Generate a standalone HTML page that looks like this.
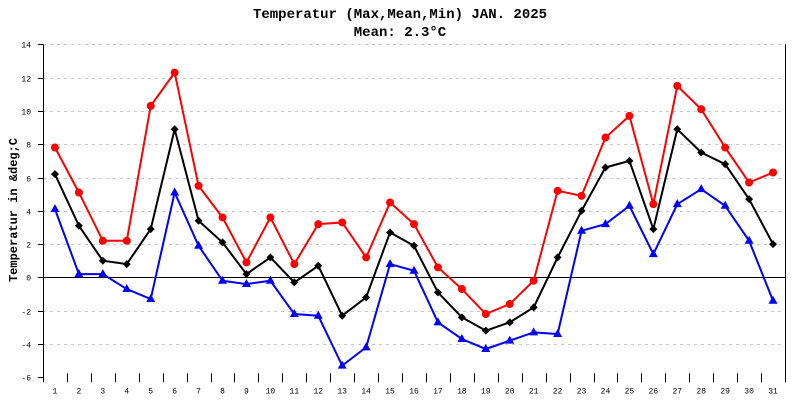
<!DOCTYPE html>
<html><head><meta charset="utf-8"><style>
html,body{margin:0;padding:0;background:#fff;}
svg{display:block;font-family:"Liberation Mono",monospace;}
</style></head><body>
<svg id="chart" width="800" height="400" xmlns="http://www.w3.org/2000/svg">
<text x="400" y="18" text-anchor="middle" font-size="14" font-weight="bold">Temperatur (Max,Mean,Min) JAN. 2025</text>
<text x="400" y="36" text-anchor="middle" font-size="14" font-weight="bold">Mean: 2.3°C</text>
<text transform="translate(17,210) rotate(-90)" text-anchor="middle" font-size="12" font-weight="bold">Temperatur in &amp;deg;C</text>
<g id="grid"></g><g id="axes"></g><g id="series"></g>
</svg>
<script>
const days = Array.from({length:31},(_,i)=>i+1);
const maxVals = [7.8,5.1,2.2,2.2,10.3,12.3,5.5,3.6,0.9,3.6,0.8,3.2,3.3,1.2,4.5,3.2,0.6,-0.7,-2.2,-1.6,-0.2,5.2,4.9,8.4,9.7,4.4,11.5,10.1,7.8,5.7,6.3];
const meanVals = [6.2,3.1,1.0,0.8,2.9,8.9,3.4,2.1,0.2,1.2,-0.3,0.7,-2.3,-1.2,2.7,1.9,-0.9,-2.4,-3.2,-2.7,-1.8,1.2,4.0,6.6,7.0,2.9,8.9,7.5,6.8,4.7,2.0];
const minVals = [4.1,0.2,0.2,-0.7,-1.3,5.1,1.9,-0.2,-0.4,-0.2,-2.2,-2.3,-5.3,-4.2,0.8,0.4,-2.7,-3.7,-4.3,-3.8,-3.3,-3.4,2.8,3.2,4.3,1.4,4.4,5.3,4.3,2.2,-1.4];
const yTicks = [14,12,10,8,6,4,2,0,-2,-4,-6];

const NS="http://www.w3.org/2000/svg";
const L=43,R=785,T=44.3,B=377.3,yMin=-6,yMax=14;
const bw=(R-L)/days.length;
const xs=d=>L+(d-0.5)*bw;
const ys=v=>B-(v-yMin)/(yMax-yMin)*(B-T);
function mk(tag,attrs,parent){const e=document.createElementNS(NS,tag);for(const k in attrs)e.setAttribute(k,attrs[k]);parent.appendChild(e);return e;}
const grid=document.getElementById('grid'),axes=document.getElementById('axes'),ser=document.getElementById('series');
yTicks.forEach(v=>{
  const y=Math.round(ys(v))+0.5;
  if(v!==0&&v!==yMin){const g=mk('line',{x1:L,x2:R,y1:y,y2:y,stroke:'#c8c8c8','stroke-dasharray':'3,4'},grid);
  
  }
  const t=mk('line',{x1:L-5,x2:L,y1:y,y2:y,stroke:'#000'},axes);
  
  
  const lb=mk('text',{x:L-12,y:y+3,'text-anchor':'end','font-size':'8'},axes);lb.textContent=v;
  
  
});
const z=mk('line',{x1:L,x2:R,y1:Math.round(ys(0))+0.5,y2:Math.round(ys(0))+0.5,stroke:'#000'},axes);


const la=mk('line',{x1:L+0.5,x2:L+0.5,y1:T,y2:B+5,stroke:'#000'},axes);


const ra=mk('line',{x1:R+0.5,x2:R+0.5,y1:T,y2:B+5,stroke:'#000'},axes);


for(let i=1;i<days.length;i++){const x=Math.round(L+i*bw)+0.5;
  const t=mk('line',{x1:x,x2:x,y1:B-4,y2:B+5,stroke:'#000'},axes);
  
  }
days.forEach(d=>{const lb=mk('text',{x:xs(d),y:B+16,'text-anchor':'middle','font-size':'8'},axes);lb.textContent=d;
  
  });
function series(vals,color,shape,name){
  const g=mk('g',{},ser);
  
  
  const pl=mk('polyline',{points:vals.map((v,i)=>xs(days[i])+','+ys(v)).join(' '),fill:'none',stroke:color,'stroke-width':'2'},g);
  
  
  vals.forEach((v,i)=>{const x=xs(days[i]),y=ys(v);let m;
    if(shape==='circle')m=mk('circle',{cx:x,cy:y,r:4,fill:color},g);
    else if(shape==='diamond')m=mk('polygon',{points:`${x},${y-4} ${x+4},${y} ${x},${y+4} ${x-4},${y}`,fill:color},g);
    else m=mk('polygon',{points:`${x},${y-5} ${x+4.5},${y+3} ${x-4.5},${y+3}`,fill:color},g);
    
    });
}
series(minVals,'#0000ff','tri','min');
series(meanVals,'#000000','diamond','mean');
series(maxVals,'#ff0000','circle','max');
</script>
</body></html>
